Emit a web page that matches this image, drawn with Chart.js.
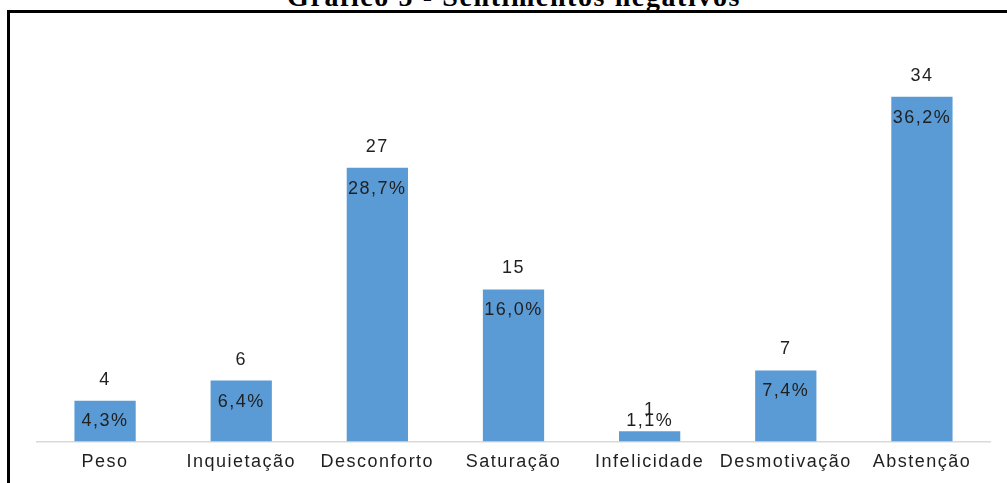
<!DOCTYPE html>
<html>
<head>
<meta charset="utf-8">
<script src="https://cdn.jsdelivr.net/npm/chart.js@4"></script>
<style>
  body { margin: 0; background: #fff; overflow: hidden; }
  #wrap { position: relative; width: 1007px; height: 483px; }
  #titulo {
    position: absolute; left: 287px; width: 456px; top: -19px;
    font: bold 28px "Liberation Serif", serif; line-height: 31px;
    letter-spacing: 1.6px; white-space: nowrap; color: #000;
  }
  #moldura {
    position: absolute; left: 7px; top: 10px; width: 1010px; height: 490px;
    border-left: 3px solid #000; border-top: 3px solid #000;
  }
  canvas { position: absolute; left: 0; top: 0; }
</style>
</head>
<body>
<div id="wrap">
  <div id="titulo">Gráfico 5 - Sentimentos negativos</div>
  <div id="moldura"></div>
  <canvas id="ChartCanvas" width="1007" height="483"></canvas>
</div>
<script>
const categorias = ['Peso', 'Inquietação', 'Desconforto', 'Saturação', 'Infelicidade', 'Desmotivação', 'Abstenção'];
const contagens = [4, 6, 27, 15, 1, 7, 34];
const percentagens = ['4,3%', '6,4%', '28,7%', '16,0%', '1,1%', '7,4%', '36,2%'];

const rotulos = {
  id: 'rotulos',
  beforeDraw(chart) {
    chart.ctx.letterSpacing = '1.5px';
  },
  afterDatasetsDraw(chart) {
    const ctx = chart.ctx;
    const base = chart.chartArea.bottom;
    ctx.save();
    ctx.font = '18px "Liberation Sans", Arial, sans-serif';
    ctx.fillStyle = '#1f1f1f';
    ctx.textAlign = 'center';
    ctx.textBaseline = 'middle';
    chart.getDatasetMeta(0).data.forEach((bar, i) => {
      ctx.fillText(String(contagens[i]), bar.x, bar.y - 21);
      ctx.fillText(percentagens[i], bar.x, Math.min(bar.y + 21, base - 20));
    });
    ctx.restore();
  }
};

function barChart() {
  const myChart = document.getElementById('ChartCanvas');
  new Chart(myChart, {
    type: 'bar',
    data: {
      labels: categorias,
      datasets: [{
        data: contagens,
        backgroundColor: '#5B9BD5',
        borderWidth: 0,
        barPercentage: 0.45,
        categoryPercentage: 1
      }]
    },
    options: {
      responsive: false,
      animation: false,
      layout: { padding: { left: 37, right: 17, top: 36, bottom: 0 } },
      plugins: { legend: { display: false }, tooltip: { enabled: false } },
      scales: {
        x: {
          grid: { display: false, drawTicks: false },
          border: { color: '#D9D9D9', width: 1.5 },
          ticks: {
            padding: 10,
            color: '#1f1f1f',
            font: { family: '"Liberation Sans", Arial, sans-serif', size: 18 }
          }
        },
        y: { display: false, min: 0, max: 40 }
      }
    },
    plugins: [rotulos]
  });
}

document.addEventListener('DOMContentLoaded', () => {
  barChart();
});
</script>
</body>
</html>
